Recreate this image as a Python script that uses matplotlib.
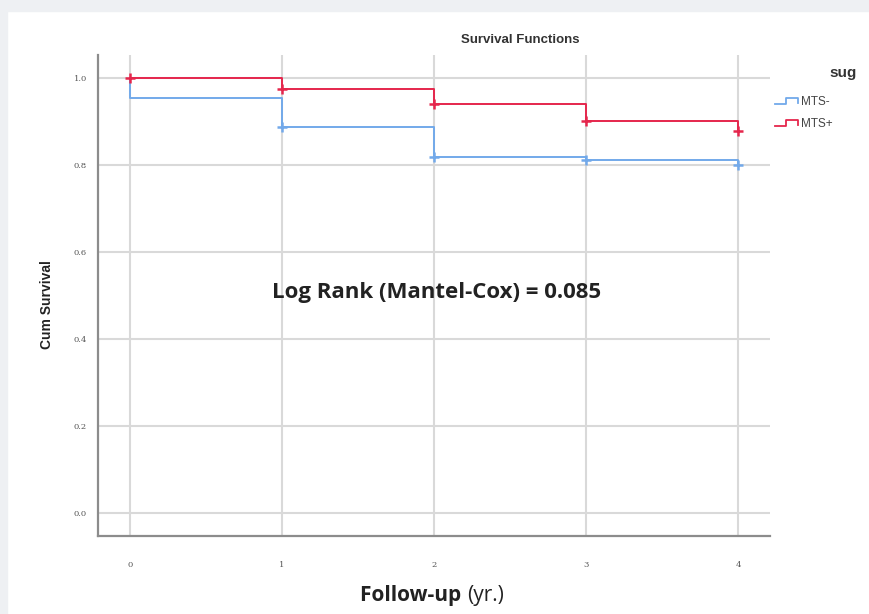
import numpy as np
import matplotlib.pyplot as plt
from matplotlib.lines import Line2D
from matplotlib.patches import Rectangle

# follow-up years and cumulative survival
years = [0, 1, 2, 3, 4]
surv_neg = [0.955, 0.887, 0.818, 0.811, 0.800]   # MTS-
surv_pos = [1.000, 0.975, 0.940, 0.901, 0.878]   # MTS+
cens_neg = [1, 2, 3, 4]
cens_pos = [0, 1, 2, 3, 4]
group_names = ['MTS-', 'MTS+']
yticks = [0.0, 0.2, 0.4, 0.6, 0.8, 1.0]

blue = '#72a9ea'
red = '#e5264c'
gridc = '#d9d9d9'

fig = plt.figure(figsize=(8.69, 6.14), dpi=100)
fig.patch.set_facecolor('white')
# grey page border from the screenshot
fig.add_artist(Rectangle((0, 1 - 11 / 614), 1, 11 / 614, transform=fig.transFigure,
                         color='#eef0f3', zorder=-5))
fig.add_artist(Rectangle((0, 0), 7 / 869, 1, transform=fig.transFigure,
                         color='#eef0f3', zorder=-5))

ax = fig.add_axes([98 / 869, 1 - 536 / 614, (770 - 98) / 869, (536 - 55) / 614])
ax.set_xlim(-0.21, 4.21)
ax.set_ylim(-0.053, 1.053)

for s in ['top', 'right']:
    ax.spines[s].set_visible(False)
for s in ['left', 'bottom']:
    ax.spines[s].set_color('#8c8c8c')
    ax.spines[s].set_linewidth(1.6)

ax.set_xticks(years)
ax.set_yticks(yticks)
ax.set_xticklabels([str(y) for y in years], fontsize=6, family='DejaVu Serif', color='#555555')
ax.set_yticklabels(['%.1f' % v for v in yticks], fontsize=6, family='DejaVu Serif', color='#555555')
ax.tick_params(length=0, pad=18)
ax.tick_params(axis='y', pad=8)
ax.grid(True, color=gridc, linewidth=1.5)
ax.set_axisbelow(True)

# step curves, starting at 1.0 at time 0
def steps(vals):
    xs = [0] + years
    ys = [1.0] + vals
    return xs, ys

x, y = steps(surv_neg)
ax.step(x, y, where='post', color=blue, linewidth=1.4, zorder=3)
ax.plot(cens_neg, [surv_neg[years.index(c)] for c in cens_neg], '+', color=blue,
        markersize=7, markeredgewidth=1.8, zorder=4)
x, y = steps(surv_pos)
ax.step(x, y, where='post', color=red, linewidth=1.4, zorder=3)
ax.plot(cens_pos, [surv_pos[years.index(c)] for c in cens_pos], '+', color=red,
        markersize=7, markeredgewidth=1.8, zorder=4)

ax.text(2.02, 0.508, 'Log Rank (Mantel-Cox) = 0.085', ha='center', va='center',
        fontsize=16, fontweight='bold', family='Open Sans', color='#222222')

fig.text(520 / 869, 1 - 40 / 614, 'Survival Functions', ha='center', va='center',
         fontsize=9.5, fontweight='bold', family='Liberation Sans', color='#333333')
fig.text(47 / 869, 1 - 305 / 614, 'Cum Survival', rotation=90, ha='center', va='center',
         fontsize=10, fontweight='bold', family='Liberation Sans', color='#222222')
fig.text(467 / 869, 1 - 596 / 614, 'Follow-up ', ha='right', va='center',
         fontsize=15, fontweight='bold', family='Open Sans', color='#222222')
fig.text(467 / 869, 1 - 596 / 614, '(yr.)', ha='left', va='center',
         fontsize=15, family='Open Sans', color='#222222')

# legend with step icons
fig.text(843 / 869, 1 - 73 / 614, 'sug', ha='center', va='center',
         fontsize=11, fontweight='bold', family='Liberation Sans', color='#333333')
for i, (name, c) in enumerate(zip(group_names, [blue, red])):
    yc = 101 + i * 22
    xs = np.array([775, 786, 786, 798, 798]) / 869
    ys = 1 - np.array([yc + 3, yc + 3, yc - 3, yc - 3, yc + 2]) / 614
    fig.add_artist(Line2D(xs, ys, color=c, linewidth=1.3, transform=fig.transFigure))
    fig.text(801 / 869, 1 - (yc + 1) / 614, name, ha='left', va='center',
             fontsize=8.5, family='Liberation Sans', color='#444444')

plt.savefig('out.png', dpi=100)
